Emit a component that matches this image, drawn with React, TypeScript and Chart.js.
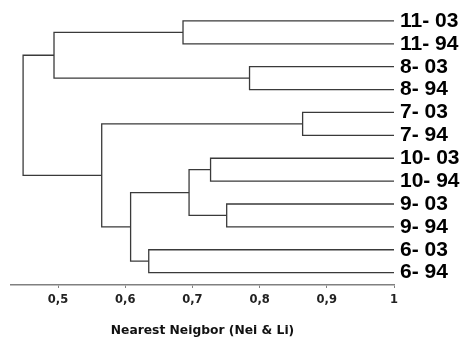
import React, { useEffect, useRef } from "react";
import { Chart, registerables } from "chart.js";

Chart.register(...registerables);

// Leaves (top to bottom)
const leafLabels = ["11- 03", "11- 94", "8- 03", "8- 94", "7- 03", "7- 94", "10- 03", "10- 94", "9- 03", "9- 94", "6- 03", "6- 94"];
const leafHeight = 1;

// Merges: node ids 0..11 are leaves, merges get ids 12, 13, ...
const mergeLeft = [0, 2, 4, 6, 8, 10, 15, 18, 14, 12, 21];
const mergeRight = [1, 3, 5, 7, 9, 11, 16, 17, 19, 13, 20];
const mergeHeight = [0.686, 0.785, 0.864, 0.727, 0.751, 0.635, 0.695, 0.608, 0.565, 0.494, 0.448];

const xTickValues = [0.5, 0.6, 0.7, 0.8, 0.9, 1];
const xTickLabels = ["0,5", "0,6", "0,7", "0,8", "0,9", "1"];
const axisTitle = "Nearest Neigbor (Nei & Li)";

function buildDatasets() {
  const n = leafLabels.length;
  const nodeX: number[] = [];
  const nodeY: number[] = [];
  for (let i = 0; i < n; i++) {
    nodeX.push(leafHeight);
    nodeY.push(i);
  }
  const datasets: any[] = [];
  for (let m = 0; m < mergeHeight.length; m++) {
    const a = mergeLeft[m];
    const b = mergeRight[m];
    const h = mergeHeight[m];
    datasets.push({
      data: [
        { x: nodeX[a], y: nodeY[a] },
        { x: h, y: nodeY[a] },
        { x: h, y: nodeY[b] },
        { x: nodeX[b], y: nodeY[b] },
      ],
      showLine: true,
      borderColor: "#3a3a3a",
      borderWidth: 1.3,
      pointRadius: 0,
      fill: false,
      tension: 0,
    });
    nodeX.push(h);
    nodeY.push((nodeY[a] + nodeY[b]) / 2);
  }
  return datasets;
}

export default function App() {
  const ref = useRef<HTMLCanvasElement | null>(null);
  useEffect(() => {
    document.body.style.margin = "0";
    const chart = new Chart(ref.current!, {
      type: "scatter",
      data: { datasets: buildDatasets() },
      options: {
        animation: false,
        responsive: true,
        maintainAspectRatio: false,
        layout: { padding: { top: 9.5, left: 11, right: 0, bottom: 0 } },
        plugins: { legend: { display: false }, tooltip: { enabled: false } },
        scales: {
          x: {
            type: "linear",
            min: 0.43,
            max: 1,
            afterBuildTicks: (s: any) => {
              s.ticks = xTickValues.map((v) => ({ value: v }));
            },
            afterFit: (s: any) => {
              s.height = 54;
              s.paddingLeft = 0;
              s.paddingRight = 0;
            },
            grid: { display: true, drawOnChartArea: false, drawTicks: true, tickLength: 3, color: "#808080", lineWidth: 1 },
            border: { display: true, color: "#808080", width: 1.6 },
            ticks: {
              padding: 5,
              color: "#222",
              font: { family: "DejaVu Sans", weight: "bold", size: 11.5 },
              callback: (_v: any, i: number) => xTickLabels[i],
            },
            title: {
              display: true,
              text: axisTitle,
              color: "#111",
              font: { family: "DejaVu Sans", weight: "bold", size: 12.3 },
              padding: { top: 0, bottom: 1 },
            },
          },
          y: {
            type: "linear",
            position: "right",
            reverse: true,
            min: -0.5,
            max: 11.54,
            afterBuildTicks: (s: any) => {
              s.ticks = leafLabels.map((_l, i) => ({ value: i }));
            },
            afterFit: (s: any) => {
              s.width = 71;
              s.paddingTop = 0;
              s.paddingBottom = 0;
            },
            grid: { display: false, drawTicks: false, tickLength: 0 },
            border: { display: false },
            ticks: {
              autoSkip: false,
              padding: 6,
              color: "#000",
              font: { family: "Liberation Sans", weight: "bold", size: 21 },
              callback: (_v: any, i: number) => leafLabels[i],
            },
          },
        },
      },
    });
    return () => chart.destroy();
  }, []);
  return (
    <div style={{ width: 465, height: 339, position: "relative" }}>
      <canvas ref={ref} />
    </div>
  );
}
